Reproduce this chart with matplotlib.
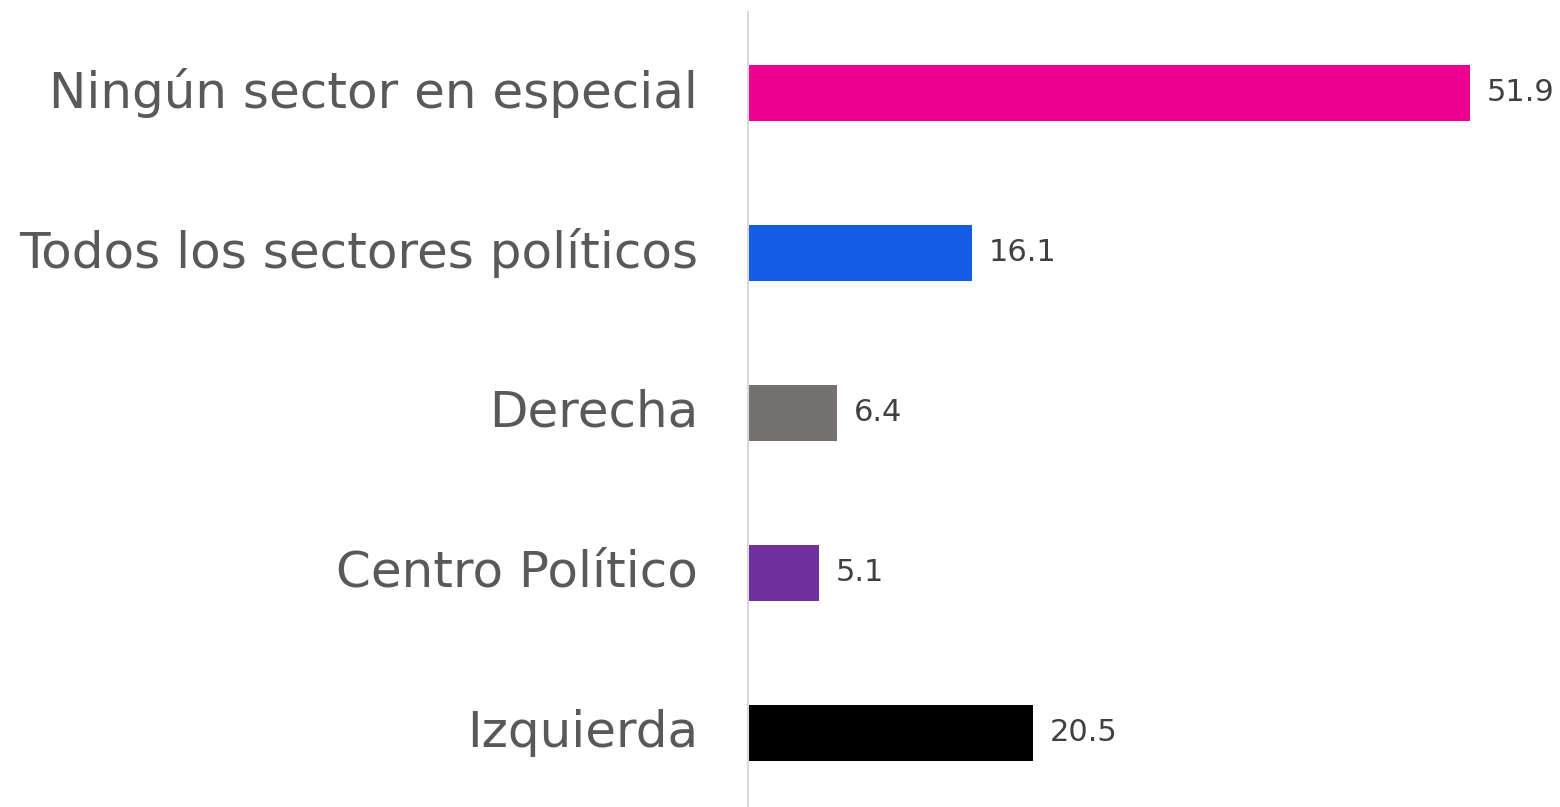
import matplotlib
matplotlib.use("Agg")
import matplotlib.pyplot as plt

categories = [
    "Ningún sector en especial",
    "Todos los sectores políticos",
    "Derecha",
    "Centro Político",
    "Izquierda",
]
values = [51.9, 16.1, 6.4, 5.1, 20.5]
colors = ["#EC0090", "#135CE4", "#757170", "#70309E", "#000000"]

plt.rcParams["font.family"] = ["DejaVu Sans"]

fig = plt.figure(figsize=(15.6, 8.07), dpi=100)
ax = fig.add_axes([748 / 1560, 0, 1 - 748 / 1560, 795 / 807])

pos = list(range(len(categories)))
ax.barh(pos, values, height=0.35, color=colors)

for p, v in zip(pos, values):
    ax.annotate(f"{v:.1f}", (v, p), xytext=(12, 0), textcoords="offset points",
                va="center", ha="left", fontsize=22, color="#404040")

ax.set_yticks(pos)
ax.set_yticklabels(categories, fontsize=36, color="#595959", va="center")
ax.tick_params(axis="y", length=0, pad=36)
ax.set_xticks([])
ax.set_xlim(0, 58.4)
ax.set_ylim(4.4625, -0.506)

for s in ["top", "right", "bottom"]:
    ax.spines[s].set_visible(False)
ax.spines["left"].set_color("#D9D9D9")
ax.spines["left"].set_linewidth(1.5)

fig.savefig("out.png", dpi=100)
